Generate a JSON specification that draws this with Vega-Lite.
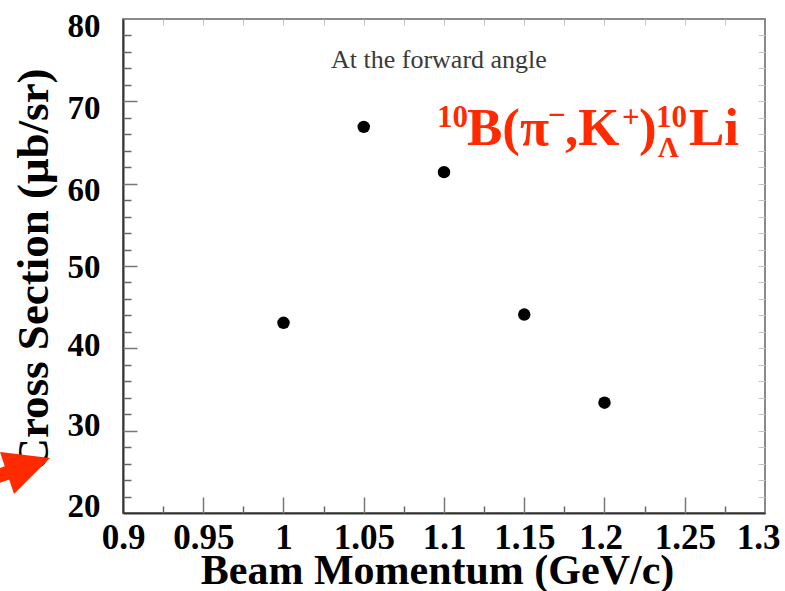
{
  "$schema": "https://vega.github.io/schema/vega-lite/v6.json",
  "width": 642,
  "height": 494,
  "autosize": {"type": "none"},
  "padding": {"left": 123, "top": 19, "right": 20, "bottom": 78},
  "background": "white",
  "config": {
    "view": {"stroke": "#8a8a8a", "strokeWidth": 2},
    "font": "Liberation Serif",
    "axis": {"grid": false, "labelOverlap": false, "labelBound": false, "labelFlush": false}
  },
  "datasets": {
    "points": [
      {"p": 1.0, "cs": 43.1},
      {"p": 1.05, "cs": 66.9},
      {"p": 1.1, "cs": 61.4},
      {"p": 1.15, "cs": 44.1},
      {"p": 1.2, "cs": 33.4}
    ],
    "notes": [
      {"label": "At the forward angle", "p": 1.0296, "cs": 74.05}
    ],
    "formula": [
      {"label": "B(π", "p": 1.11433, "cs": 64.7, "role": "main"},
      {"label": ",K", "p": 1.17539, "cs": 64.7, "role": "main"},
      {"label": ")", "p": 1.22149, "cs": 64.7, "role": "main"},
      {"label": "Li", "p": 1.25265, "cs": 64.7, "role": "main"},
      {"label": "10", "p": 1.09564, "cs": 66.88, "role": "sup"},
      {"label": "−", "p": 1.1648, "cs": 67.1, "role": "sup"},
      {"label": "+", "p": 1.2109, "cs": 66.88, "role": "sup"},
      {"label": "10", "p": 1.23209, "cs": 66.88, "role": "sup"},
      {"label": "Λ", "p": 1.23333, "cs": 63.24, "role": "sub"}
    ],
    "arrow": [
      {"p": 0.83645, "cs": 25.47}
    ]
  },
  "layer": [
    {
      "data": {"name": "points"},
      "mark": {"type": "point", "filled": true, "color": "black", "opacity": 1, "size": 155},
      "encoding": {
        "x": {
          "field": "p", "type": "quantitative",
          "scale": {"domain": [0.9, 1.3], "nice": false, "zero": false},
          "axis": {
            "orient": "bottom",
            "values": [0.9, 0.95, 1.0, 1.05, 1.1, 1.15, 1.2, 1.25, 1.3],
            "format": "~g",
            "ticks": false,
            "domain": true, "domainColor": "#333", "domainWidth": 2,
            "labelFont": "Liberation Serif", "labelFontWeight": "bold", "labelFontSize": 35,
            "labelColor": "black", "labelBaseline": "alphabetic", "labelPadding": 35,
            "labelOffset": {"condition": [{"test": "datum.value > 1.29", "value": -7}, {"test": "datum.value > 1.19 && datum.value < 1.21", "value": -4}], "value": 0},
            "title": "Beam Momentum (GeV/c)",
            "titleFont": "Liberation Serif", "titleFontWeight": "bold", "titleFontSize": 42,
            "titleColor": "black", "titleBaseline": "alphabetic", "titleAlign": "center",
            "titleX": 314, "titleY": 70
          }
        },
        "y": {
          "field": "cs", "type": "quantitative",
          "scale": {"domain": [20, 80], "nice": false, "zero": false},
          "axis": {
            "orient": "left",
            "values": [20, 30, 40, 50, 60, 70, 80],
            "ticks": false,
            "domain": true, "domainColor": "#333", "domainWidth": 2,
            "labelFont": "Liberation Serif", "labelFontWeight": "bold", "labelFontSize": 33,
            "labelColor": "black", "labelBaseline": "middle", "labelPadding": 23,
            "labelOffset": {"condition": [{"test": "datum.value >= 60", "value": 7}, {"test": "datum.value >= 50", "value": 1}, {"test": "datum.value >= 40", "value": -3}, {"test": "datum.value >= 30", "value": -5}], "value": -7},
            "title": "Cross Section (μb/sr)",
            "titleFont": "Liberation Serif", "titleFontWeight": "bold", "titleFontSize": 45,
            "titleColor": "black", "titleBaseline": "alphabetic", "titleAlign": "center",
            "titleAngle": -90, "titleX": -76, "titleY": 250
          }
        }
      }
    },
    {
      "data": {"name": "notes"},
      "mark": {"type": "text", "align": "left", "baseline": "alphabetic", "font": "Liberation Serif", "fontSize": 26, "color": "#3a3a3a"},
      "encoding": {
        "x": {
          "field": "p", "type": "quantitative",
          "scale": {"domain": [0.9, 1.3], "nice": false, "zero": false},
          "axis": {
            "orient": "bottom", "values": [0.95, 1.0, 1.05, 1.1, 1.15, 1.2, 1.25],
            "labels": false, "domain": false, "ticks": true, "tickSize": -16,
            "tickColor": "#777", "tickWidth": 1.5, "title": null
          }
        },
        "y": {
          "field": "cs", "type": "quantitative",
          "scale": {"domain": [20, 80], "nice": false, "zero": false},
          "axis": {
            "orient": "left", "values": [30, 40, 50, 60, 70],
            "labels": false, "domain": false, "ticks": true, "tickSize": -14,
            "tickColor": "#777", "tickWidth": 1.5, "title": null
          }
        },
        "text": {"field": "label"}
      }
    },
    {
      "data": {"name": "formula"},
      "transform": [{"filter": "datum.role === 'main'"}],
      "mark": {"type": "text", "align": "left", "baseline": "alphabetic", "font": "Liberation Serif", "fontWeight": "bold", "fontSize": 53, "color": "#ff2a00"},
      "encoding": {
        "x": {
          "field": "p", "type": "quantitative",
          "scale": {"domain": [0.9, 1.3], "nice": false, "zero": false},
          "axis": {
            "orient": "bottom", "values": [0.925, 0.975, 1.025, 1.075, 1.125, 1.175, 1.225, 1.275],
            "labels": false, "domain": false, "ticks": true, "tickSize": -7,
            "tickColor": "#666", "tickWidth": 1.5, "title": null
          }
        },
        "y": {
          "field": "cs", "type": "quantitative",
          "scale": {"domain": [20, 80], "nice": false, "zero": false},
          "axis": {
            "orient": "left",
            "values": [22, 24, 26, 28, 32, 34, 36, 38, 42, 44, 46, 48, 52, 54, 56, 58, 62, 64, 66, 68, 72, 74, 76, 78],
            "labels": false, "domain": false, "ticks": true, "tickSize": -8,
            "tickColor": "#666", "tickWidth": 1.5, "title": null
          }
        },
        "text": {"field": "label"}
      }
    },
    {
      "data": {"name": "formula"},
      "transform": [{"filter": "datum.role === 'sup'"}],
      "mark": {"type": "text", "align": "left", "baseline": "alphabetic", "font": "Liberation Serif", "fontWeight": "bold", "fontSize": 31, "color": "#ff2a00"},
      "encoding": {
        "x": {
          "field": "p", "type": "quantitative",
          "scale": {"domain": [0.9, 1.3], "nice": false, "zero": false},
          "axis": {
            "orient": "top", "values": [0.925, 0.95, 0.975, 1.0, 1.025, 1.05, 1.075, 1.1, 1.125, 1.15, 1.175, 1.2, 1.225, 1.25, 1.275],
            "labels": false, "domain": false, "ticks": true, "tickSize": -6,
            "tickColor": "#c4c4c4", "tickWidth": 1, "title": null
          }
        },
        "y": {
          "field": "cs", "type": "quantitative",
          "scale": {"domain": [20, 80], "nice": false, "zero": false},
          "axis": {
            "orient": "right",
            "values": [22, 24, 26, 28, 30, 32, 34, 36, 38, 40, 42, 44, 46, 48, 50, 52, 54, 56, 58, 60, 62, 64, 66, 68, 70, 72, 74, 76, 78],
            "labels": false, "domain": false, "ticks": true, "tickSize": -7,
            "tickColor": "#c4c4c4", "tickWidth": 1, "title": null
          }
        },
        "text": {"field": "label"}
      }
    },
    {
      "data": {"name": "formula"},
      "transform": [{"filter": "datum.role === 'sub'"}],
      "mark": {"type": "text", "align": "left", "baseline": "alphabetic", "font": "Liberation Serif", "fontWeight": "bold", "fontSize": 29, "color": "#ff2a00"},
      "encoding": {
        "x": {"field": "p", "type": "quantitative", "scale": {"domain": [0.9, 1.3], "nice": false, "zero": false}, "axis": null},
        "y": {"field": "cs", "type": "quantitative", "scale": {"domain": [20, 80], "nice": false, "zero": false}, "axis": null},
        "text": {"field": "label"}
      }
    },
    {
      "data": {"name": "arrow"},
      "mark": {
        "type": "point", "filled": true, "color": "#ff2a00", "opacity": 1, "size": 3600, "clip": false,
        "shape": "M -0.7 -0.533 L 0.967 -0.333 L -0.233 0.867 Z M -0.543 -0.053 L -0.39 0.387 L -1.65 0.827 L -1.803 0.387 Z"
      },
      "encoding": {
        "x": {"field": "p", "type": "quantitative", "scale": {"domain": [0.9, 1.3], "nice": false, "zero": false}, "axis": null},
        "y": {"field": "cs", "type": "quantitative", "scale": {"domain": [20, 80], "nice": false, "zero": false}, "axis": null}
      }
    }
  ],
  "resolve": {"axis": {"x": "independent", "y": "independent"}}
}
